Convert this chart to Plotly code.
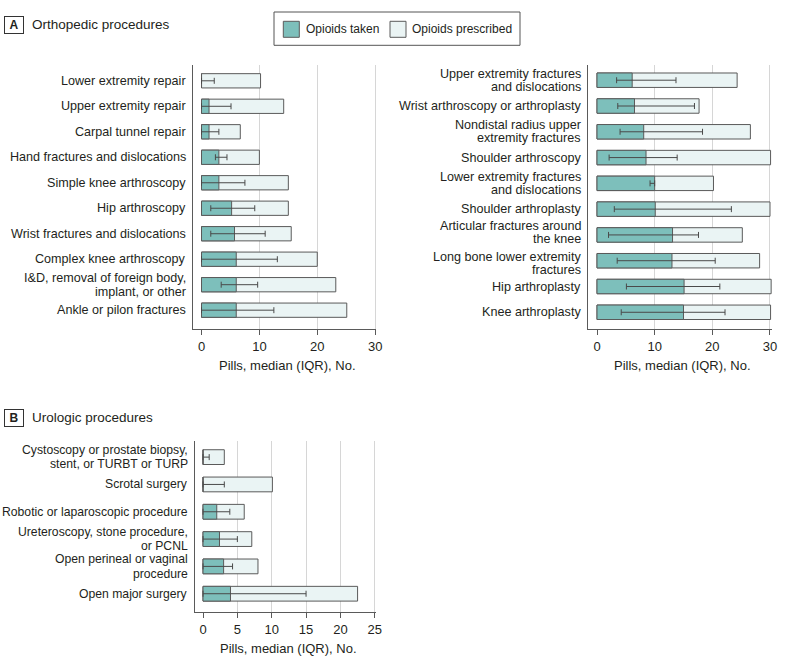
import plotly.graph_objects as go

# ---------------- data ----------------
ortho_left_cats = ["Lower extremity repair", "Upper extremity repair", "Carpal tunnel repair",
                   "Hand fractures and dislocations", "Simple knee arthroscopy", "Hip arthroscopy",
                   "Wrist fractures and dislocations", "Complex knee arthroscopy",
                   "I&D, removal of foreign body,<br>implant, or other", "Ankle or pilon fractures"]
ortho_left_taken = [0, 1.3, 1.3, 3, 3, 5.2, 5.7, 6, 6, 6]
ortho_left_prescribed = [10.2, 14.2, 6.7, 10, 15, 15, 15.5, 20, 23.2, 25.1]
ortho_left_q1 = [0, 0, 0, 2.4, 0, 1.6, 1.6, 0, 3.4, 0]
ortho_left_q3 = [2.2, 5.1, 3, 4.4, 7.5, 9.2, 11, 13.1, 9.7, 12.5]

ortho_right_cats = ["Upper extremity fractures<br>and dislocations", "Wrist arthroscopy or arthroplasty",
                    "Nondistal radius upper<br>extremity fractures", "Shoulder arthroscopy",
                    "Lower extremity fractures<br>and dislocations", "Shoulder arthroplasty",
                    "Articular fractures around<br>the knee", "Long bone lower extremity<br>fractures",
                    "Hip arthroplasty", "Knee arthroplasty"]
ortho_right_taken = [6.1, 6.5, 8.1, 8.5, 10, 10.1, 13.1, 13, 15.1, 15]
ortho_right_prescribed = [24.3, 17.7, 26.6, 30.1, 20.2, 30, 25.2, 28.2, 30.2, 30.1]
ortho_right_q1 = [3.4, 3.6, 4.0, 2.1, 9.2, 3.0, 2.0, 3.5, 5.1, 4.2]
ortho_right_q3 = [13.7, 16.9, 18.3, 13.9, 10, 23.3, 17.6, 20.5, 21.3, 22.2]

uro_cats = ["Cystoscopy or prostate biopsy,<br>stent, or TURBT or TURP", "Scrotal surgery",
            "Robotic or laparoscopic procedure", "Ureteroscopy, stone procedure,<br>or PCNL",
            "Open perineal or vaginal<br>procedure", "Open major surgery"]
uro_taken = [0, 0, 2, 2.4, 3, 4]
uro_prescribed = [3.1, 10.1, 6, 7.1, 8, 22.5]
uro_q1 = [0, 0, 0, 0, 0, 0]
uro_q3 = [0.9, 3.1, 3.9, 5, 4.3, 15]

ortho_ticks = [0, 10, 20, 30]
uro_ticks = [0, 5, 10, 15, 20, 25]

series_names = ["Opioids taken", "Opioids prescribed"]
x_title = "Pills, median (IQR), No."

# ---------------- style ----------------
W, H = 785, 663
FONT = "Liberation Sans, Arial, sans-serif"
TEXT = "#231f20"
TEAL = "#7dbfbb"
LIGHT = "#eaf4f4"
EDGE = "#5a5a5a"
GRID = "#d6d6d6"
# small vertical nudges (px) for crowded neighbouring two-line labels
LABEL_NUDGE = {"Articular fractures around<br>the knee": 2.5,
               "Long bone lower extremity<br>fractures": -2.5}


def px(x):
    return x / W


def py(y):
    return 1 - y / H


fig = go.Figure()

panels = [
    ("x", "y", ortho_left_cats, ortho_left_taken, ortho_left_prescribed, ortho_left_q1, ortho_left_q3, 0.56, 13.6, 12.6),
    ("x2", "y2", ortho_right_cats, ortho_right_taken, ortho_right_prescribed, ortho_right_q1, ortho_right_q3, 0.56, 13.4, 12.6),
    ("x3", "y3", uro_cats, uro_taken, uro_prescribed, uro_q1, uro_q3, 0.54, 14.2, 12.2),
]

annotations = []

for xa, ya, cats, taken, presc, q1, q3, bw, lh, fs in panels:
    fig.add_trace(go.Bar(
        y=cats, x=presc, orientation="h", xaxis=xa, yaxis=ya, width=bw,
        marker=dict(color=LIGHT, line=dict(color=EDGE, width=1)),
        name=series_names[1], showlegend=False, hoverinfo="skip"))
    fig.add_trace(go.Bar(
        y=cats, x=taken, orientation="h", xaxis=xa, yaxis=ya, width=bw,
        marker=dict(color=TEAL, line=dict(color=EDGE, width=1)),
        error_x=dict(type="data", symmetric=False,
                     array=[b - a for a, b in zip(taken, q3)],
                     arrayminus=[a - b for a, b in zip(taken, q1)],
                     color="#4a4a4a", thickness=1, width=3),
        name=series_names[0], showlegend=False, hoverinfo="skip"))
    # category labels (one text per line, tighter line spacing than plotly's tick labels)
    for cat in cats:
        lines = cat.split("<br>")
        n = len(lines)
        for i, line in enumerate(lines):
            annotations.append(dict(
                text=line, xref=xa + " domain", yref=ya, x=0, y=cat,
                xanchor="right", yanchor="middle", xshift=-5,
                yshift=((n - 1) / 2 - i) * lh + LABEL_NUDGE.get(cat, 0), showarrow=False,
                font=dict(size=fs, color=TEXT, family=FONT)))


def xaxis(domain, rng, ticks, grid, anchor):
    return dict(domain=domain, range=rng, tickvals=ticks, showgrid=False, zeroline=False,
                showline=True, linecolor=EDGE, linewidth=1, ticks="outside", ticklen=5,
                tickcolor=EDGE, tickfont=dict(size=13, color=TEXT, family=FONT),
                minor=dict(tickvals=grid, showgrid=True, gridcolor=GRID, gridwidth=1, ticks=""),
                automargin=False, anchor=anchor, fixedrange=True)


def yaxis(domain, cats, rng, anchor):
    return dict(domain=domain, type="category", categoryorder="array", categoryarray=cats,
                range=rng, showgrid=False, zeroline=False, showline=True, linecolor=EDGE,
                linewidth=1, ticks="", showticklabels=False, anchor=anchor,
                automargin=False, fixedrange=True)


fig.update_layout(
    width=W, height=H, margin=dict(l=0, r=0, t=0, b=0, autoexpand=False),
    paper_bgcolor="white", plot_bgcolor="white",
    barmode="overlay", showlegend=False,
    font=dict(family=FONT, color=TEXT, size=13),
    xaxis=xaxis([px(193.3), px(376.3)], [-1.42, 30.2], ortho_ticks, ortho_ticks[1:], "y"),
    yaxis=yaxis([py(329.3), py(65)], ortho_left_cats, [9.75, -0.62], "x"),
    xaxis2=xaxis([px(588.3), px(772.3)], [-1.51, 30.4], ortho_ticks, ortho_ticks[1:], "y2"),
    yaxis2=yaxis([py(329.3), py(65)], ortho_right_cats, [9.66, -0.59], "x2"),
    xaxis3=xaxis([px(195), px(375.8)], [-1.165, 25.15], uro_ticks, uro_ticks[1:], "y3"),
    yaxis3=yaxis([py(612.3), py(441)], uro_cats, [5.68, -0.59], "x3"),
)

# axis titles
for cx, cy in [(287, 365), (682, 365), (288, 648)]:
    annotations.append(dict(text=x_title, x=px(cx), y=py(cy), xref="paper", yref="paper",
                            xanchor="center", yanchor="middle", showarrow=False,
                            font=dict(size=13, color=TEXT, family=FONT)))
# panel titles
for letter, title, cy in [("A", "Orthopedic procedures", 24.8), ("B", "Urologic procedures", 417.7)]:
    annotations.append(dict(text="<b>%s</b>" % letter, x=px(13.7), y=py(cy), xref="paper", yref="paper",
                            xanchor="center", yanchor="middle", showarrow=False,
                            width=14, height=12, borderpad=2, bordercolor="#333333", borderwidth=1,
                            font=dict(size=12, color=TEXT, family=FONT)))
    annotations.append(dict(text=title, x=px(30), y=py(cy), xref="paper", yref="paper",
                            xanchor="left", yanchor="middle", showarrow=False,
                            font=dict(size=13.5, color=TEXT, family=FONT)))
# legend text
for name, lx in [(series_names[0], 303.5), (series_names[1], 410)]:
    annotations.append(dict(text=name, x=px(lx), y=py(29.5), xref="paper", yref="paper",
                            xanchor="left", yanchor="middle", showarrow=False,
                            font=dict(size=12, color=TEXT, family=FONT)))
fig.update_layout(annotations=annotations)

shapes = [
    dict(type="rect", xref="paper", yref="paper", x0=px(274), x1=px(520), y0=py(45.3), y1=py(12),
         line=dict(color="#555555", width=1), fillcolor="rgba(0,0,0,0)"),
    dict(type="rect", xref="paper", yref="paper", x0=px(283.3), x1=px(299.3), y0=py(37.3), y1=py(21.3),
         line=dict(color=EDGE, width=1), fillcolor=TEAL),
    dict(type="rect", xref="paper", yref="paper", x0=px(390), x1=px(406), y0=py(37.3), y1=py(21.3),
         line=dict(color=EDGE, width=1), fillcolor=LIGHT),
]
fig.update_layout(shapes=shapes)

fig.write_html(
    "out.html",
    config={"displayModeBar": False, "staticPlot": True},
    post_script="document.documentElement.style.margin='0';document.body.style.margin='0';"
                "document.body.style.overflow='hidden';")
